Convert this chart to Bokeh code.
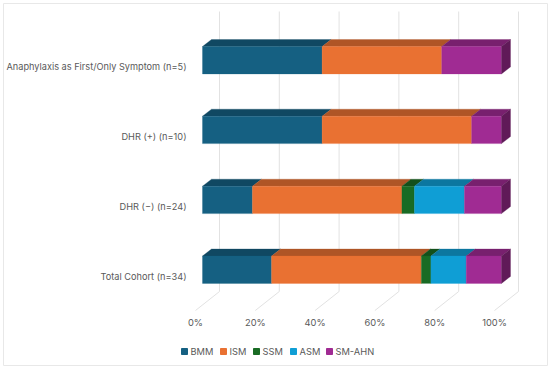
from bokeh.plotting import figure
from bokeh.models import Range1d
from bokeh.core.properties import value
from bokeh.embed import file_html
from bokeh.resources import INLINE

categories = ["Total Cohort (n=34)", "DHR (−) (n=24)", "DHR (+) (n=10)", "Anaphylaxis as First/Only Symptom (n=5)"]
series = ["BMM", "ISM", "SSM", "ASM", "SM-AHN"]
bmm = [23.1, 16.7, 40, 40]
ism = [50.1, 50, 50, 40]
ssm = [3.2, 4.2, 0, 0]
asm = [11.8, 16.7, 0, 0]
ahn = [11.8, 12.4, 10, 20]
values = [bmm, ism, ssm, asm, ahn]
ticks = [0, 20, 40, 60, 80, 100]
front = ["#156082", "#E97132", "#196B24", "#0F9ED5", "#A02B93"]
top = ["#104862", "#AF5526", "#13501B", "#0C77A0", "#78206E"]
side = ["#0D3A4E", "#8C441E", "#0F4016", "#095F80", "#601A58"]

W, H = 550, 369
PX = 2.99          # px per percent
X0 = 202           # px of 0 % at the bar front
p = figure(width=W, height=H, output_backend="svg", toolbar_location=None,
           x_range=Range1d(-X0 / PX, (W - X0) / PX), y_range=Range1d(H, 0),
           min_border=0, outline_line_color=None)
p.axis.visible = False
p.grid.visible = False
p.background_fill_color = "white"

# frame
fx = [3 / PX - X0 / PX, (W - 3) / PX - X0 / PX]
p.line([fx[0], fx[1], fx[1], fx[0], fx[0]], [3, 3, 365, 365, 3], line_color="#E8E8E8", line_width=1)

ddx, ddy = 9 / PX, -7            # bar depth
gdx, gdy = 24 / PX, -19          # floor depth
fdx = -7 / PX                    # floor starts in front of the bars
for t in ticks:
    p.line([t + fdx, t + fdx + gdx, t + fdx + gdx], [310, 291, 11], line_color="#E2E2E2", line_width=1)
    p.text([t + fdx], [322], text=[f"{t}%"], text_font=value("Inter"), text_font_size="9.3px",
           text_color="#595959", text_align="center", text_baseline="middle")

ytop = [255.5, 185.7, 115.7, 46]
bar_h = 27.4
for i, cat in enumerate(categories):
    y0 = ytop[i]
    y1 = y0 + bar_h
    start = 0
    for s, vals in enumerate(values):
        v = vals[i]
        if v == 0:
            continue
        end = start + v
        p.patch([start, end, end + ddx, start + ddx], [y0, y0, y0 + ddy, y0 + ddy], fill_color=top[s], line_color=top[s], line_width=0.3)
        p.patch([start, end, end, start], [y0, y0, y1, y1], fill_color=front[s], line_color=front[s], line_width=0.3)
        start = end
    p.patch([100, 100 + ddx, 100 + ddx, 100], [y0, y0 + ddy, y1 + ddy, y1], fill_color=side[4], line_color=side[4], line_width=0.3)
    p.text([(186 - X0) / PX], [y0 + 20], text=[cat], text_font=value("Inter"), text_font_size="9.2px",
           text_color="#595959", text_align="right", text_baseline="middle")

lx = [181, 220, 253, 290, 326]
for n, c, lp in zip(series, front, lx):
    xd = (lp - X0) / PX
    p.scatter([xd + 3 / PX], [351], marker="square", size=6, fill_color=c, line_color=c)
    p.text([xd + 9 / PX], [351], text=[n], text_font=value("Inter"), text_font_size="9.3px",
           text_color="#595959", text_align="left", text_baseline="middle")

open("out.html", "w").write(file_html(p, INLINE))
